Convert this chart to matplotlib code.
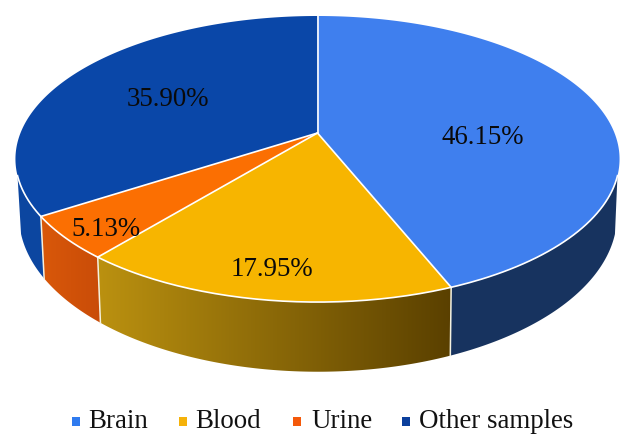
import numpy as np
import matplotlib
matplotlib.use('Agg')
import matplotlib.pyplot as plt
from matplotlib.patches import Polygon, Rectangle
from matplotlib.colors import LinearSegmentedColormap

# chart data
categories = ['Brain', 'Blood', 'Urine', 'Other samples']
values = [46.15, 17.95, 5.13, 35.90]
value_labels = ['46.15%', '17.95%', '5.13%', '35.90%']

top_colors = ['#3f7fee', '#f7b500', '#fb6f02', '#0a47a8']
side_colors = ['#17335f', ('#bb9110', '#5a4000'), ('#d9580a', '#c94c08'), '#0c46a0']
legend_colors = ['#2f7bef', '#f5b20a', '#f4590a', '#0b3f9c']

# where things sit on the picture (pixels)
label_pos = [(483, 137), (272, 270), (106, 230), (168, 99)]
legend_box_x = [72, 179, 293, 402]
legend_text_x = [88, 195, 311, 419]

# perspective of the tilted disc
TILT = 0.182
WALL_START = 107
WALL_END = 253


def project(theta, cx, cy, rx, ry):
    rad = np.radians(theta)
    u = np.sin(rad)
    v = np.cos(rad)
    w = 1 + TILT * v
    return cx + rx * u / w, cy - ry * v / w


def top_rim(theta):
    return project(theta, 317.5, 133, 297, 138.3)


def bottom_rim(theta):
    return project(theta, 318, 187.5, 294, 150.7)


def rim_points(func, a, b):
    x, y = func(np.linspace(a, b, 200))
    return np.column_stack([x, y])


fig = plt.figure(figsize=(6.28, 4.38), dpi=100)
ax = fig.add_axes([0, 0, 1, 1])
ax.axis('off')

bounds = np.concatenate([[0], np.cumsum(values)]) / sum(values) * 360
apex = top_rim(np.array(0.0))[0], 133

# side walls first
for i in range(len(values)):
    a = max(bounds[i], WALL_START)
    b = min(bounds[i + 1], WALL_END)
    if a >= b:
        continue
    upper = rim_points(top_rim, a, b)
    lower = rim_points(bottom_rim, b, a)
    pts = np.vstack([upper, lower])
    if isinstance(side_colors[i], tuple):
        poly = Polygon(pts, closed=True, facecolor='none', edgecolor='none')
        ax.add_patch(poly)
        cmap = LinearSegmentedColormap.from_list('side', side_colors[i])
        grad = np.linspace(0, 1, 256).reshape(1, -1)
        # gradient runs left to right whichever way the slice was walked
        im = ax.imshow(grad, cmap=cmap, aspect='auto', zorder=2,
                       extent=(pts[:, 0].min(), pts[:, 0].max(), pts[:, 1].max(), pts[:, 1].min()))
        im.set_clip_path(poly)
    else:
        ax.add_patch(Polygon(pts, closed=True, facecolor=side_colors[i], edgecolor='none', zorder=2))

# imshow resets the limits
ax.set_xlim(0, 628)
ax.set_ylim(438, 0)

# white lines down the wall at slice edges
for b in bounds[1:-1]:
    x0, y0 = top_rim(b)
    x1, y1 = bottom_rim(b)
    ax.plot([x0, x1], [y0, y1], color='#f4f1e0', lw=1.1, zorder=3)

# top slices
for i in range(len(values)):
    arc = rim_points(top_rim, bounds[i], bounds[i + 1])
    pts = np.vstack([[apex], arc])
    ax.add_patch(Polygon(pts, closed=True, facecolor=top_colors[i], edgecolor='none', zorder=4))

# white edges on the top
for b in bounds[:-1]:
    x0, y0 = top_rim(b)
    ax.plot([apex[0], x0], [apex[1], y0], color='white', lw=1.2, zorder=5)
front = rim_points(top_rim, WALL_START, WALL_END)
ax.plot(front[:, 0], front[:, 1], color='white', lw=1.2, zorder=5)

for lab, (x, y) in zip(value_labels, label_pos):
    ax.text(x, y, lab, ha='center', va='center', fontsize=19.4,
            family='Liberation Serif', color='#0a0a0a', zorder=6)

# legend
for i, name in enumerate(categories):
    ax.add_patch(Rectangle((legend_box_x[i], 417), 8, 9, facecolor=legend_colors[i], edgecolor='none'))
    ax.text(legend_text_x[i], 428, name, ha='left', va='baseline', fontsize=19.4,
            family='Liberation Serif', color='#111111')

fig.savefig('out.png', dpi=100, facecolor='white')
